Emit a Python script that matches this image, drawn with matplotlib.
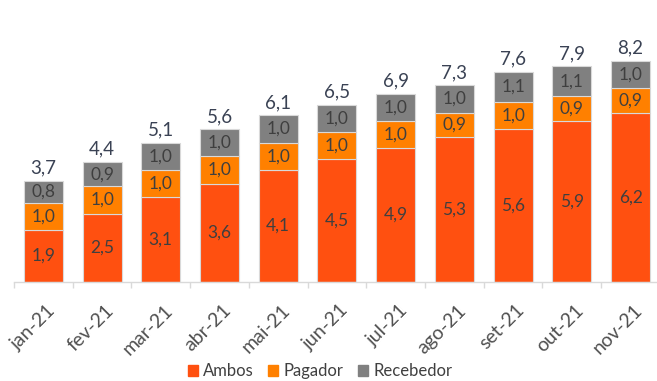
import matplotlib
matplotlib.use("Agg")
import matplotlib.pyplot as plt
import matplotlib.transforms as mtransforms
from matplotlib.patches import Patch
import numpy as np

months = ["jan-21", "fev-21", "mar-21", "abr-21", "mai-21", "jun-21",
          "jul-21", "ago-21", "set-21", "out-21", "nov-21"]
ambos = [1.9, 2.5, 3.1, 3.6, 4.1, 4.5, 4.9, 5.3, 5.6, 5.9, 6.2]
pagador = [1.0, 1.0, 1.0, 1.0, 1.0, 1.0, 1.0, 0.9, 1.0, 0.9, 0.9]
recebedor = [0.8, 0.9, 1.0, 1.0, 1.0, 1.0, 1.0, 1.0, 1.1, 1.1, 1.0]
totals = [3.7, 4.4, 5.1, 5.6, 6.1, 6.5, 6.9, 7.3, 7.6, 7.9, 8.2]

plt.rcParams["font.family"] = ["Lato", "DejaVu Sans"]

c_ambos = "#ff5010"
c_pag = "#ff8000"
c_rec = "#808080"
edge = "#d9d9d9"

fig = plt.figure(figsize=(6.57, 3.81), dpi=100)
ax = fig.add_axes([14 / 657, 99 / 381, 1 - 14 / 657, 273 / 381])

x = np.arange(len(months))
w = 0.665
a = np.array(ambos)
p = np.array(pagador)
r = np.array(recebedor)

ax.bar(x, a, w, color=c_ambos, edgecolor=edge, linewidth=0.8)
ax.bar(x, p, w, bottom=a, color=c_pag, edgecolor=edge, linewidth=0.8)
ax.bar(x, r, w, bottom=a + p, color=c_rec, edgecolor=edge, linewidth=0.8)

def fmt(v):
    return "{:.1f}".format(v).replace(".", ",")

lab_color = "#3f3f3f"
for i in range(len(months)):
    ax.text(x[i], a[i] / 2, fmt(ambos[i]), ha="center", va="center",
            fontsize=12.5, color=lab_color)
    ax.text(x[i], a[i] + p[i] / 2, fmt(pagador[i]), ha="center", va="center",
            fontsize=12.5, color=lab_color)
    ax.text(x[i], a[i] + p[i] + r[i] / 2, fmt(recebedor[i]), ha="center",
            va="center", fontsize=12.5, color=lab_color)
    ax.annotate(fmt(totals[i]), (x[i], a[i] + p[i] + r[i]),
                xytext=(0, 3), textcoords="offset points",
                ha="center", va="bottom", fontsize=13.5, color="#3a4254")

ax.set_xlim(-0.5, 10.45)
ax.set_ylim(0, 10)
ax.set_yticks([])
for s in ["top", "right", "left"]:
    ax.spines[s].set_visible(False)
ax.spines["bottom"].set_color(edge)
ax.spines["bottom"].set_linewidth(1.0)

ax.set_xticks(x)
ax.set_xticklabels(months, rotation=45, ha="right", rotation_mode="anchor",
                   fontsize=14, color="#505050")
ax.tick_params(axis="x", which="major", length=0, pad=14)
ax.set_xticks(np.arange(-0.5, 10.5, 1.0), minor=True)
ax.tick_params(axis="x", which="minor", length=4.5, color=edge, width=1.0)
shift = mtransforms.ScaledTranslation(3 / 100, 0, fig.dpi_scale_trans)
for lbl in ax.get_xticklabels():
    lbl.set_transform(lbl.get_transform() + shift)

handles = [Patch(color=c_ambos), Patch(color=c_pag), Patch(color=c_rec)]
fig.legend(handles, ["Ambos", "Pagador", "Recebedor"], loc="lower center",
           bbox_to_anchor=(0.487, -0.035), ncol=3, frameon=False,
           fontsize=12, handlelength=0.6, handleheight=0.6,
           handletextpad=0.3, columnspacing=0.9, labelcolor="#404040")

fig.savefig("out.png", dpi=100)
